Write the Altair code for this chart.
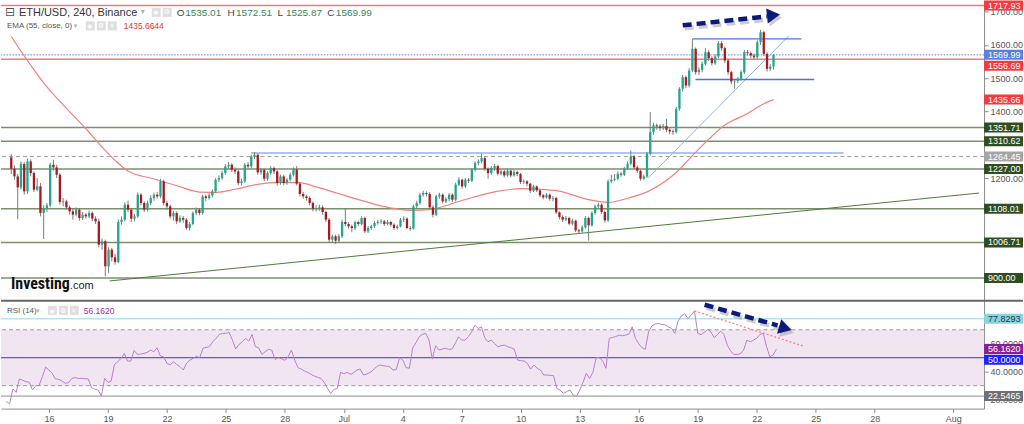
import altair as alt
import pandas as pd

# ---------------- data ----------------
START_DAY = 12 + 20 / 24      # first candle: 13 Jun 20:00 (days counted from 1 Jun 00:00)
STEP_DAYS = 4 / 24            # 240-minute candles
first_open = 1262.0

closes = [1228, 1205, 1172, 1242, 1160, 1250, 1215, 1165, 1175, 1095,
          1110, 1118, 1240, 1232, 1210, 1128, 1130, 1112, 1100, 1090,
          1105, 1080, 1090, 1085, 1095, 1078, 1070, 1000, 1010, 935,
          985, 962, 948, 1068, 1075, 1120, 1105, 1078, 1085, 1150,
          1125, 1105, 1125, 1140, 1150, 1145, 1190, 1125, 1115, 1085,
          1095, 1070, 1080, 1075, 1050, 1062, 1095, 1105, 1095, 1145,
          1140, 1148, 1160, 1195, 1200, 1215, 1235, 1240, 1225, 1220,
          1185, 1190, 1240, 1235, 1265, 1270, 1217, 1225, 1198, 1215,
          1230, 1220, 1185, 1205, 1185, 1195, 1210, 1226, 1183, 1152,
          1145, 1140, 1125, 1108, 1110, 1112, 1098, 1075, 1015, 1025,
          1012, 1025, 1068, 1062, 1055, 1050, 1068, 1062, 1080, 1040,
          1050, 1055, 1065, 1068, 1070, 1062, 1068, 1060, 1050, 1055,
          1075, 1078, 1050, 1048, 1115, 1125, 1150, 1155, 1152, 1112,
          1090, 1145, 1150, 1130, 1137, 1150, 1135, 1180, 1195, 1175,
          1195, 1192, 1225, 1245, 1250, 1260, 1228, 1215, 1230, 1236,
          1213, 1220, 1208, 1222, 1208, 1218, 1212, 1188, 1190, 1183,
          1162, 1175, 1163, 1148, 1142, 1150, 1138, 1140, 1097, 1083,
          1075, 1080, 1063, 1072, 1043, 1040, 1052, 1080, 1058, 1095,
          1115, 1120, 1098, 1073, 1190, 1195, 1198, 1213, 1210, 1228,
          1243, 1265, 1232, 1222, 1198, 1205, 1273, 1338, 1358, 1355,
          1350, 1356, 1345, 1340, 1338, 1408, 1468, 1503, 1478, 1523,
          1588, 1518, 1525, 1543, 1578, 1560, 1545, 1565, 1605, 1590,
          1553, 1518, 1490, 1492, 1498, 1518, 1578, 1575, 1568, 1563,
          1608, 1638, 1573, 1528, 1535.01, 1569.99]

highs = [1272, 1238, 1212, 1250, 1248, 1258, 1256, 1220, 1200, 1185,
         1118, 1125, 1246, 1255, 1240, 1215, 1140, 1135, 1118, 1110,
         1112, 1110, 1098, 1095, 1102, 1100, 1085, 1078, 1018, 1015,
         992, 990, 972, 1075, 1085, 1127, 1132, 1110, 1092, 1157,
         1155, 1130, 1132, 1148, 1156, 1158, 1198, 1195, 1132, 1120,
         1102, 1100, 1088, 1086, 1080, 1068, 1100, 1112, 1110, 1150,
         1150, 1155, 1166, 1200, 1208, 1222, 1242, 1248, 1245, 1232,
         1225, 1198, 1245, 1248, 1270, 1278, 1274, 1230, 1228, 1220,
         1236, 1234, 1224, 1210, 1210, 1200, 1216, 1232, 1236, 1188,
         1158, 1150, 1145, 1130, 1118, 1120, 1118, 1102, 1080, 1030,
         1030, 1032, 1075, 1107, 1068, 1060, 1072, 1072, 1085, 1084,
         1056, 1060, 1070, 1074, 1076, 1074, 1074, 1072, 1064, 1060,
         1080, 1085, 1082, 1056, 1120, 1132, 1156, 1162, 1160, 1158,
         1118, 1150, 1156, 1154, 1142, 1155, 1154, 1186, 1202, 1198,
         1200, 1200, 1230, 1250, 1256, 1274, 1264, 1232, 1236, 1242,
         1240, 1226, 1224, 1228, 1226, 1224, 1222, 1215, 1196, 1194,
         1186, 1180, 1178, 1166, 1152, 1155, 1154, 1146, 1144, 1100,
         1088, 1086, 1084, 1078, 1075, 1048, 1058, 1086, 1084, 1100,
         1120, 1126, 1124, 1102, 1196, 1210, 1212, 1220, 1218, 1234,
         1250, 1283, 1270, 1238, 1226, 1210, 1278, 1398, 1366, 1364,
         1362, 1362, 1378, 1350, 1346, 1414, 1473, 1510, 1508, 1530,
         1618, 1592, 1532, 1550, 1590, 1584, 1566, 1572, 1612, 1612,
         1595, 1558, 1522, 1498, 1504, 1524, 1584, 1585, 1580, 1574,
         1614, 1645, 1642, 1578, 1542, 1572.51]

lows = [1212, 1195, 1077, 1165, 1150, 1152, 1205, 1158, 1160, 1085,
        1017, 1098, 1112, 1222, 1200, 1120, 1115, 1105, 1090, 1075,
        1085, 1072, 1074, 1078, 1080, 1070, 1062, 992, 985, 905,
        915, 950, 940, 944, 1060, 1070, 1098, 1068, 1070, 1080,
        1118, 1098, 1100, 1118, 1132, 1138, 1140, 1118, 1105, 1078,
        1072, 1062, 1065, 1066, 1045, 1042, 1058, 1088, 1088, 1090,
        1130, 1135, 1142, 1155, 1188, 1195, 1210, 1228, 1218, 1212,
        1178, 1178, 1186, 1228, 1230, 1258, 1210, 1210, 1190, 1192,
        1210, 1212, 1178, 1180, 1178, 1180, 1190, 1205, 1178, 1145,
        1138, 1132, 1118, 1100, 1100, 1102, 1090, 1068, 1008, 1005,
        1002, 1006, 1020, 1055, 1048, 1037, 1045, 1055, 1058, 1035,
        1035, 1044, 1050, 1060, 1062, 1056, 1058, 1054, 1044, 1045,
        1052, 1068, 1046, 1042, 1045, 1108, 1120, 1144, 1145, 1105,
        1082, 1086, 1138, 1124, 1125, 1130, 1128, 1130, 1175, 1168,
        1170, 1185, 1188, 1220, 1238, 1244, 1222, 1198, 1210, 1222,
        1208, 1208, 1202, 1204, 1202, 1204, 1206, 1182, 1182, 1176,
        1155, 1158, 1158, 1142, 1136, 1138, 1132, 1130, 1092, 1076,
        1068, 1070, 1058, 1058, 1038, 1032, 1036, 1048, 1012, 1054,
        1090, 1110, 1092, 1066, 1068, 1184, 1190, 1194, 1204, 1206,
        1224, 1238, 1226, 1215, 1192, 1194, 1200, 1268, 1330, 1345,
        1342, 1344, 1338, 1332, 1330, 1334, 1402, 1460, 1470, 1472,
        1518, 1510, 1510, 1518, 1538, 1552, 1538, 1540, 1560, 1582,
        1545, 1510, 1482, 1468, 1485, 1492, 1512, 1568, 1560, 1556,
        1558, 1600, 1566, 1520, 1522, 1525.87]

rsi_values = [18.6, 17.0, 27.6, 25.2, 34.8, 33.8, 32.9, 32.4, 26.9, 30.0,
              30.0, 36.4, 43.3, 41.2, 38.8, 34.8, 34.5, 33.3, 31.7, 32.2,
              35.2, 35.7, 35.2, 35.2, 35.0, 34.8, 28.6, 27.4, 26.9, 22.6,
              35.2, 32.4, 33.3, 45.2, 47.1, 49.5, 53.1, 47.6, 47.6, 55.2,
              52.4, 52.6, 53.1, 53.8, 55.5, 54.3, 57.1, 51.2, 50.7, 46.0,
              44.8, 47.1, 45.2, 43.6, 41.2, 46.0, 48.3, 49.5, 51.0, 50.0,
              56.7, 57.4, 57.9, 61.4, 63.8, 66.7, 67.4, 67.4, 68.1, 62.6,
              56.2, 59.5, 61.4, 63.8, 61.9, 66.7, 57.9, 57.1, 52.4, 54.3,
              56.0, 55.5, 48.8, 50.0, 49.3, 48.1, 50.7, 55.5, 48.3, 42.9,
              41.9, 40.5, 39.5, 38.1, 36.9, 36.0, 35.2, 32.4, 28.1, 24.3,
              27.4, 28.0, 39.5, 38.6, 39.5, 38.1, 39.3, 41.2, 41.9, 37.6,
              38.3, 39.5, 41.2, 43.6, 44.8, 44.3, 44.0, 43.6, 41.2, 41.5,
              50.0, 48.3, 42.9, 42.5, 57.0, 60.7, 65.0, 66.7, 67.4, 62.6,
              49.0, 58.6, 55.5, 56.2, 56.7, 56.0, 56.2, 60.2, 65.0, 62.6,
              62.6, 65.0, 68.6, 73.3, 70.9, 72.1, 64.3, 61.4, 62.6, 60.2,
              57.9, 58.6, 59.0, 57.9, 57.1, 56.2, 48.3, 47.9, 47.6, 46.0,
              41.9, 44.8, 42.4, 41.2, 37.6, 37.6, 37.4, 37.1, 28.1, 26.9,
              24.5, 25.7, 26.9, 23.3, 22.2, 26.9, 32.4, 38.8, 35.2, 39.5,
              50.0, 50.0, 47.6, 42.4, 63.8, 64.5, 65.2, 66.2, 65.7, 66.2,
              66.9, 72.1, 63.8, 60.0, 57.1, 56.0, 68.6, 72.8, 74.2, 74.5,
              73.8, 73.6, 72.1, 71.0, 67.4, 76.2, 80.0, 81.5, 78.0, 80.5,
              83.5, 67.4, 66.5, 68.1, 70.2, 68.6, 64.3, 66.5, 69.0, 66.7,
              59.0, 55.0, 52.4, 52.4, 52.8, 55.5, 62.6, 61.4, 62.6, 63.8,
              66.7, 67.4, 57.9, 50.7, 51.9, 56.162]

ema_days = [12.834, 13.578, 14.593, 15.609, 16.624, 17.487, 18.299, 18.807,
            20.177, 21.345, 22.512, 23.375, 24.390, 25.406, 26.573, 27.588,
            28.603, 29.568, 30.989, 32.360, 33.375, 34.390, 36.066, 37.789,
            39.112, 40.838, 42.513, 43.528, 44.543, 45.558, 46.929, 48.096,
            49.467, 50.634, 51.497, 52.000]
ema_values = [1625, 1560, 1479, 1413, 1351, 1294, 1246, 1222,
              1197, 1177, 1158, 1157, 1167, 1180, 1187, 1186,
              1172, 1155, 1130, 1110, 1103, 1106, 1134, 1160,
              1168, 1162, 1135, 1127, 1140, 1160, 1213, 1283,
              1358, 1393, 1423, 1435.66]

green_levels = [1351.71, 1310.62, 1227.00, 1108.01, 1006.71, 900.00]
red_levels = [1717.93, 1556.69]
blue_dotted_level = [1569.99]
gray_dashed_level = [1264.45]
price_tag_values = [1717.93, 1569.99, 1556.69, 1435.66, 1351.71, 1310.62,
                    1264.45, 1227.00, 1108.01, 1006.71, 900.00]
rsi_tag_values = [77.8293, 56.1620, 50.0000, 22.5465]

# drawn lines: (day, value) end points
support_line = [(17.89, 891), (62.563, 1155)]
resistance_line = [(25.15, 1275), (55.61, 1275)]
rise_line = [(45.56, 1200), (52.80, 1628)]
range_top = [(47.84, 1618), (53.43, 1618)]
range_bottom = [(47.99, 1496), (54.09, 1496)]
price_arrow = [(47.335, 1658.6), (51.65, 1685.6)]
price_arrow_head = (52.00, 1689.0)
rsi_trend = [(47.833, 83.5), (53.34, 58.5)]
rsi_arrow = [(48.35, 87.9), (52.06, 73.1)]
rsi_arrow_head = (52.46, 71.1)

x_tick_days = [15, 18, 21, 24, 27, 30, 33, 36, 39, 42, 45, 48, 51, 54, 57, 61]
price_ticks = [1200, 1400, 1500, 1600, 1700]
rsi_ticks = [20, 40, 60]
ohlc_values = ["1535.01", "1572.51", "1525.87", "1569.99"]
ema_header_value = "1435.6644"
rsi_header_value = "56.1620"

# ---------------- layout / style ----------------
W, H1, H2 = 985, 300, 109
X_DOMAIN = [12.563, 62.563]
PRICE_DOMAIN = [834.24, 1733.52]
RSI_DOMAIN = [13.57, 91.43]
FONT = "Liberation Sans"
UP, DOWN, WICK = "#22a58c", "#a8181e", "#6f7f77"
NAVY = "#0c1a7a"

xs = alt.Scale(domain=X_DOMAIN, nice=False, zero=False)
ps = alt.Scale(domain=PRICE_DOMAIN, nice=False, zero=False)
rs = alt.Scale(domain=RSI_DOMAIN, nice=False, zero=False)

axis_common = dict(grid=False, title=None, domainColor="#8a8a8a", tickColor="#8a8a8a",
                   tickSize=4, labelFontSize=9, labelColor="#555555", labelFont=FONT,
                   labelFlush=False, labelOverlap=False, labelPadding=2)
price_axis = alt.Axis(orient="right", values=price_ticks, format=".2f", **axis_common)
rsi_axis = alt.Axis(orient="right", values=rsi_ticks, format=".4f", **axis_common)
x_axis = alt.Axis(orient="bottom", values=x_tick_days,
                  labelExpr="datum.value == 30 ? 'Jul' : (datum.value == 61 ? 'Aug' : "
                            "(datum.value < 30 ? '' + (datum.value + 1) : '' + (datum.value - 29)))",
                  **axis_common)


def PX(f):
    return alt.X(f"{f}:Q", scale=xs, axis=None)


def PY(f):
    return alt.Y(f"{f}:Q", scale=ps, axis=price_axis)


def RX(f):
    return alt.X(f"{f}:Q", scale=xs, axis=x_axis)


def RY(f):
    return alt.Y(f"{f}:Q", scale=rs, axis=rsi_axis)


one = pd.DataFrame({"k": [0]})


def txt(s, x, y, size, color, weight="normal", font=FONT):
    return alt.Chart(one).mark_text(text=s, fontSize=size, color=color, fontWeight=weight,
                                    font=font, align="left", baseline="middle"
                                    ).encode(x=alt.value(x), y=alt.value(y))


def box(x, y, w, h, color):
    return alt.Chart(one).mark_rect(color=color).encode(
        x=alt.value(x), x2=alt.value(x + w), y=alt.value(y), y2=alt.value(y + h))


def hlines(values, Y, color, width=1.0, dash=None):
    kw = dict(color=color, strokeWidth=width)
    if dash:
        kw["strokeDash"] = dash
    return alt.Chart(pd.DataFrame({"v": values})).mark_rule(**kw).encode(y=Y("v"))


def seg(points, X, Y, color, width=1.0, dash=None, opacity=1.0, dx=0, dy=0):
    kw = dict(color=color, strokeWidth=width, opacity=opacity)
    if dash:
        kw["strokeDash"] = dash
    if dx or dy:
        kw["xOffset"] = dx
        kw["yOffset"] = dy
    d = pd.DataFrame({"day": [p[0] for p in points], "v": [p[1] for p in points]})
    return alt.Chart(d).mark_line(**kw).encode(x=X("day"), y=Y("v"))


def head(pt, X, Y, angle, color, size=230, opacity=1.0, dx=0, dy=0):
    kw = dict(shape="triangle-right", filled=True, size=size, angle=angle,
              color=color, opacity=opacity)
    if dx or dy:
        kw["xOffset"] = dx
        kw["yOffset"] = dy
    d = pd.DataFrame({"day": [pt[0]], "v": [pt[1]]})
    return alt.Chart(d).mark_point(**kw).encode(x=X("day"), y=Y("v"))


def tags(values, fmt, Y, bgs, fgs, shifts, h, fs):
    out = []
    for v, bg, fg, sh in zip(values, bgs, fgs, shifts):
        d = pd.DataFrame({"v": [v], "label": [format(v, fmt)]})
        out.append(alt.Chart(d).mark_rect(color=bg, yOffset=sh - h / 2, y2Offset=sh + h / 2)
                   .encode(x=alt.value(985), x2=alt.value(1024), y=Y("v"), y2="v"))
        out.append(alt.Chart(d).mark_text(align="left", baseline="middle", dy=sh, fontSize=fs,
                                          color=fg, font=FONT)
                   .encode(x=alt.value(989), y=Y("v"), text="label:N"))
    return out


# ---------------- price pane ----------------
opens = [first_open] + closes[:-1]
candles = pd.DataFrame({
    "day": [START_DAY + i * STEP_DAYS for i in range(len(closes))],
    "open": opens, "high": highs, "low": lows, "close": closes,
})
up = candles[candles["close"] >= candles["open"]]
down = candles[candles["close"] < candles["open"]]

ema_df = pd.DataFrame({"day": ema_days, "ema": ema_values})

price_layers = [
    hlines(green_levels, PY, "#7b8f6c", 1.5),
    hlines(gray_dashed_level, PY, "#9e9e9e", 1.0, [4, 3]),
    hlines(red_levels, PY, "#f27a7a", 1.5),
    hlines(blue_dotted_level, PY, "#5b7fe6", 1.0, [1.5, 1.5]),
    seg(support_line, PX, PY, "#4f7a3d", 1.0),
    seg(resistance_line, PX, PY, "#8fb3f0", 1.5),
    seg(rise_line, PX, PY, "#8fb0f5", 1.0),
    seg(range_top, PX, PY, "#4d6ef2", 1.5),
    seg(range_bottom, PX, PY, "#4d6ef2", 1.5),
    alt.Chart(ema_df).mark_line(color="#f47f7f", strokeWidth=1.2, interpolate="monotone")
    .encode(x=PX("day"), y=PY("ema")),
    alt.Chart(candles).mark_rule(color=WICK, strokeWidth=1).encode(x=PX("day"), y=PY("low"), y2="high"),
    alt.Chart(up).mark_bar(color=UP, size=2.3).encode(x=PX("day"), y=PY("open"), y2="close"),
    alt.Chart(down).mark_bar(color=DOWN, size=2.3).encode(x=PX("day"), y=PY("open"), y2="close"),
    seg(price_arrow, PX, PY, "#9a9a9a", 4.5, [9, 5], 0.5, 2, 3),
    head(price_arrow_head, PX, PY, 354, "#9a9a9a", opacity=0.5, dx=2, dy=3),
    seg(price_arrow, PX, PY, NAVY, 4.5, [9, 5]),
    head(price_arrow_head, PX, PY, 354, NAVY),
]

red_tag, blue_tag, green_tag, gray_tag = "#f23b3b", "#5a7fe0", "#2f4d1f", "#a5a5a5"
price_layers += tags(
    price_tag_values, ".2f", PY,
    [red_tag, blue_tag, red_tag, red_tag, green_tag, green_tag, gray_tag,
     green_tag, green_tag, green_tag, green_tag],
    ["white"] * 11,
    [0, 0, 6.5, 0, 0, 0, 0, 0, 0, 0, 0], 10, 9)

# header
price_layers += [
    txt("\u229f", 4, 12, 12, "#555555", font="DejaVu Sans"),
    txt("ETH/USD, 240, Binance", 18, 12.5, 11, "#333333"),
    txt("\u25be", 140, 12, 8, "#b0b0b0", font="DejaVu Sans"),
    box(151, 7.5, 9, 9, "#dedede"), box(162, 7.5, 9, 9, "#dedede"),
    txt("\u25c9", 152.5, 12, 6, "white", font="DejaVu Sans"),
    txt("\u2699", 163, 12, 7, "white", font="DejaVu Sans"),
]
for letter, value, lx in zip(["O", "H", "L", "C"], ohlc_values, [176, 227, 277, 327]):
    price_layers.append(txt(letter, lx, 12.5, 10, "#444444"))
    price_layers.append(txt(value, lx + 8.5, 12.5, 10, "#2e8b57"))
price_layers += [
    txt("EMA (55, close, 0)", 6, 25.5, 8, "#555555"),
    txt("\u25be", 73, 25.5, 7, "#b0b0b0", font="DejaVu Sans"),
    box(85, 21, 9, 9, "#dedede"), box(96, 21, 9, 9, "#dedede"), box(107, 21, 9, 9, "#dedede"),
    txt("\u25c9", 86.5, 25.5, 6, "white", font="DejaVu Sans"),
    txt("\u2699", 97, 25.5, 7, "white", font="DejaVu Sans"),
    txt("\u2715", 108.5, 25.5, 6, "white", font="DejaVu Sans"),
    txt(ema_header_value, 123, 25.5, 8.5, "#e8342f"),
    txt("Investing", 10, 284, 16, "#111111", "bold",
        font="Liberation Sans Narrow, Roboto Condensed, Liberation Sans"),
    txt(".com", 69, 286, 11, "#222222"),
]

price = alt.layer(*price_layers).properties(width=W, height=H1)

# ---------------- RSI pane ----------------
rsi_df = pd.DataFrame({"day": [START_DAY + i * STEP_DAYS for i in range(len(rsi_values))],
                       "rsi": rsi_values})
band = pd.DataFrame({"lo": [30], "hi": [70]})

rsi_layers = [
    alt.Chart(band).mark_rect(color="#f2e5f2").encode(
        x=alt.value(0), x2=alt.value(W), y=RY("hi"), y2="lo"),
    hlines([70, 30], RY, "#9a9a9a", 1.0, [4, 3]),
    hlines([50], RY, "#3535e8", 1.0),
    hlines([77.8293], RY, "#8fd6e3", 1.0),
    hlines([22.5465], RY, "#8c8c8c", 1.0),
    alt.Chart(rsi_df).mark_line(color="#ba7fcc", strokeWidth=1).encode(x=RX("day"), y=RY("rsi")),
    seg(rsi_trend, RX, RY, "#ff7f7f", 1.3, [2, 2]),
    seg(rsi_arrow, RX, RY, "#9a9a9a", 4.5, [9, 5], 0.5, 2, 3),
    head(rsi_arrow_head, RX, RY, 16, "#9a9a9a", opacity=0.5, dx=2, dy=3),
    seg(rsi_arrow, RX, RY, NAVY, 4.5, [9, 5]),
    head(rsi_arrow_head, RX, RY, 16, NAVY),
]
rsi_layers += tags(rsi_tag_values, ".4f", RY,
                   ["#8ad3e0", "#8b1f8f", "#1f1fff", "#6f6f6f"],
                   ["#1d3b46", "white", "white", "white"],
                   [0, 0, 2, 0], 10, 9)
rsi_layers += [
    alt.Chart(one).mark_rule(color="#666666", strokeWidth=2).encode(
        x=alt.value(0), x2=alt.value(1024), y=alt.value(1)),
    txt("RSI (14)", 6, 10.7, 8, "#555555"),
    txt("\u25be", 35, 10.7, 7, "#b0b0b0", font="DejaVu Sans"),
    box(47, 6, 9, 9, "#dedede"), box(58, 6, 9, 9, "#dedede"), box(69, 6, 9, 9, "#dedede"),
    txt("\u25c9", 48.5, 10.7, 6, "white", font="DejaVu Sans"),
    txt("\u2699", 59, 10.7, 7, "white", font="DejaVu Sans"),
    txt("\u2715", 70.5, 10.7, 6, "white", font="DejaVu Sans"),
    txt(rsi_header_value, 83, 10.7, 8.5, "#9b30a6"),
]

rsi = alt.layer(*rsi_layers).properties(width=W, height=H2)

chart = (
    alt.vconcat(price, rsi, spacing=0, bounds="flush")
    .resolve_scale(x="independent", y="independent")
    .properties(padding=0, background="white")
    .configure_view(stroke=None)
)

chart.save("out.html", embed_options={"renderer": "svg", "actions": False})
